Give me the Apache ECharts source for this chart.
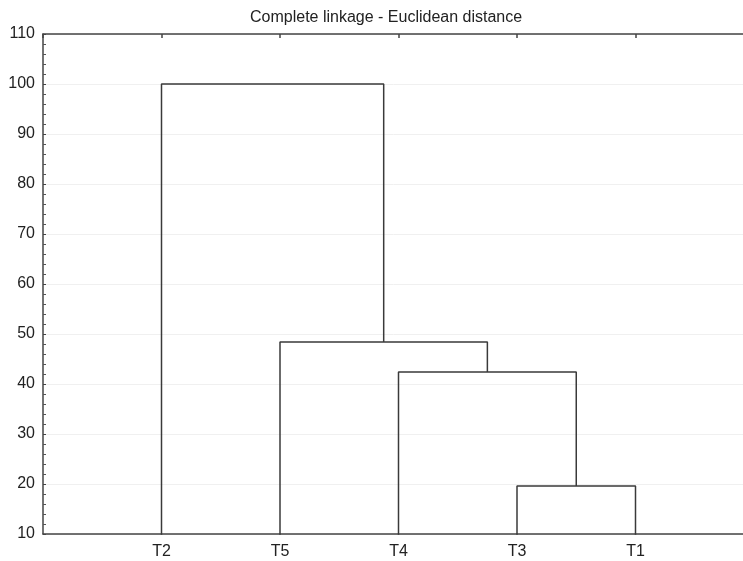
<!DOCTYPE html>
<html>
<head>
<meta charset="utf-8">
<script src="https://cdn.jsdelivr.net/npm/echarts@6/dist/echarts.min.js"></script>
<style>
  html, body { margin: 0; padding: 0; background: #fff; }
  #chart { width: 743px; height: 561px; }
</style>
</head>
<body>
<div id="chart"></div>
<script>
// leaves in display order
var leaves = ['T2', 'T5', 'T4', 'T3', 'T1'];
// merges: [left cluster, right cluster, linkage distance]; leaves are 0..4, new clusters 5..
var mergeLeft = [3, 2, 1, 0];
var mergeRight = [4, 5, 6, 7];
var mergeHeight = [19.6, 42.4, 48.4, 100];
var yTicks = [10, 20, 30, 40, 50, 60, 70, 80, 90, 100, 110];

// positions of each cluster (x at midpoint, y at its height)
var nodeX = leaves.map(function (n, i) { return i + 1; });
var nodeY = leaves.map(function () { return 0; });
var links = [];
for (var i = 0; i < mergeHeight.length; i++) {
    var a = mergeLeft[i], b = mergeRight[i], h = mergeHeight[i];
    links.push([[nodeX[a], nodeY[a]], [nodeX[a], h], [nodeX[b], h], [nodeX[b], nodeY[b]]]);
    nodeX.push((nodeX[a] + nodeX[b]) / 2);
    nodeY.push(h);
}

var lineCol = '#3a3a3a';
var series = links.map(function (pts) {
    return {
        type: 'line',
        data: pts,
        symbol: 'none',
        clip: true,
        silent: true,
        lineStyle: { color: lineCol, width: 1.5 },
        xAxisIndex: 0,
        yAxisIndex: 0
    };
});

var myChart = echarts.init(document.getElementById('chart'));
myChart.setOption({
    animation: false,
    backgroundColor: '#fff',
    title: {
        text: 'Complete linkage - Euclidean distance',
        left: 245,
        top: 5,
        textStyle: { fontFamily: 'Liberation Sans', fontSize: 16, fontWeight: 'normal', color: '#222' }
    },
    grid: { left: 43, right: -11, top: 34, bottom: 27, outerBoundsMode: 'none' },
    xAxis: [{
        type: 'value',
        min: 0, max: 6, interval: 1,
        axisLine: { lineStyle: { color: '#444', width: 1.5 } },
        axisTick: { show: false },
        splitLine: { show: false },
        axisLabel: {
            margin: 10,
            fontFamily: 'Liberation Sans', fontSize: 16, color: '#222',
            formatter: function (v) { return leaves[v - 1] || ''; }
        }
    }, {
        type: 'value',
        position: 'top',
        min: 0, max: 6, interval: 1,
        axisLine: { show: true, lineStyle: { color: '#444', width: 1.5 } },
        axisTick: { show: true, inside: true, length: 4, lineStyle: { color: '#444', width: 1.5 } },
        axisLabel: { show: false },
        splitLine: { show: false }
    }],
    yAxis: {
        type: 'value',
        min: yTicks[0], max: yTicks[yTicks.length - 1], interval: 10,
        axisLine: { show: true, lineStyle: { color: '#444', width: 1.5 } },
        axisTick: { show: true, inside: true, length: 3, lineStyle: { color: '#444' } },
        minorTick: { show: true, splitNumber: 5, length: 3, lineStyle: { color: '#555' } },
        splitLine: { lineStyle: { color: '#f0f0f0', width: 1 } },
        axisLabel: { margin: 8, fontFamily: 'Liberation Sans', fontSize: 16, color: '#222' }
    },
    series: series
});
</script>
</body>
</html>
